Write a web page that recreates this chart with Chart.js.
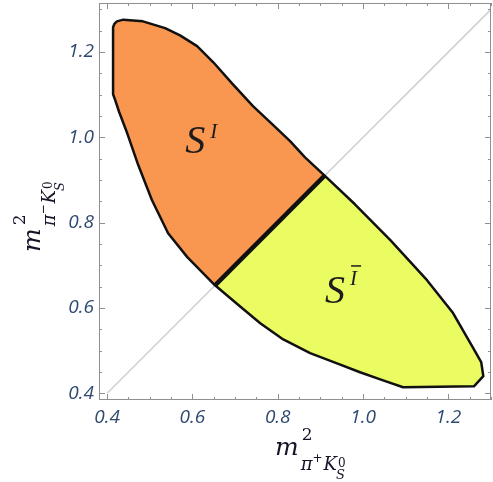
<!DOCTYPE html>
<html>
<head>
<meta charset="utf-8">
<script src="https://cdn.jsdelivr.net/npm/chart.js@4/dist/chart.umd.min.js"></script>
<style>
  html, body { margin: 0; padding: 0; background: #fff; }
  canvas { display: block; }
</style>
</head>
<body>
<canvas id="dalitzChart" width="493" height="482"></canvas>
<script>
// Tick values for both axes
const xTicks = [0.4, 0.6, 0.8, 1.0, 1.2];
const yTicks = [0.4, 0.6, 0.8, 1.0, 1.2];

// Region S^I (above the diagonal), boundary
const orangeX = [0.653, 0.588, 0.543, 0.505, 0.473, 0.447, 0.428, 0.419, 0.414, 0.414, 0.417, 0.423, 0.438, 0.484, 0.536, 0.571, 0.611, 0.649, 0.695, 0.742, 0.787, 0.829, 0.864, 0.91, 0.653];
const orangeY = [0.653, 0.719, 0.775, 0.853, 0.935, 1.010, 1.060, 1.087, 1.101, 1.258, 1.266, 1.272, 1.276, 1.272, 1.256, 1.239, 1.214, 1.176, 1.124, 1.073, 1.031, 0.991, 0.953, 0.91, 0.653];

// Region S^Ibar (below the diagonal)
const yellowX = [0.91, 0.981, 1.064, 1.150, 1.211, 1.258, 1.277, 1.282, 1.260, 1.094, 1.047, 0.993, 0.939, 0.876, 0.813, 0.759, 0.705, 0.653, 0.91];
const yellowY = [0.91, 0.843, 0.759, 0.665, 0.588, 0.506, 0.473, 0.440, 0.416, 0.414, 0.430, 0.449, 0.470, 0.494, 0.526, 0.564, 0.609, 0.653, 0.91];

// Divider on the diagonal and the diagonal itself
const dividerXY = [0.653, 0.91];
const diagonalXY = [0.4, 1.32];

function toPoints(xs, ys) {
    return xs.map((x, i) => ({ x: x, y: ys[i] }));
}

// Frame, inward ticks, region labels and math axis titles
const decorPlugin = {
    id: 'decor',
    afterDatasetsDraw(chart) {
        const ctx = chart.ctx;
        const xs = chart.scales.x, ys = chart.scales.y;

        // region labels
        ctx.save();
        ctx.fillStyle = '#1c1c1c';
        ctx.textBaseline = 'alphabetic';
        let px = xs.getPixelForValue(0.583), py = ys.getPixelForValue(0.963);
        ctx.font = 'italic 40px "Liberation Serif"';
        ctx.fillText('S', px, py);
        ctx.font = 'italic 21px "Liberation Serif"';
        ctx.fillText('I', px + 25, py - 15);

        px = xs.getPixelForValue(0.911); py = ys.getPixelForValue(0.611);
        ctx.font = 'italic 40px "Liberation Serif"';
        ctx.fillText('S', px, py);
        ctx.font = 'italic 21px "Liberation Serif"';
        ctx.fillText('I', px + 25, py - 18);
        ctx.fillRect(px + 26, py - 38, 10, 1.5);
        ctx.restore();
    },
    afterDraw(chart) {
        const ctx = chart.ctx;
        const xs = chart.scales.x, ys = chart.scales.y;
        const a = chart.chartArea;
        ctx.save();
        ctx.strokeStyle = '#8f8f8f';
        ctx.lineWidth = 1;
        ctx.strokeRect(a.left + 0.5, a.top + 0.5, a.right - a.left - 1, a.bottom - a.top - 1);

        ctx.beginPath();
        for (let k = 8; k <= 26; k++) {
            const v = k * 0.05;
            const major = (k % 4 === 0);
            const len = major ? 6 : 3;
            if (v <= xs.max) {
                const x = Math.round(xs.getPixelForValue(v)) + 0.5;
                ctx.moveTo(x, a.bottom); ctx.lineTo(x, a.bottom - len);
                ctx.moveTo(x, a.top); ctx.lineTo(x, a.top + len);
            }
            if (v <= ys.max) {
                const y = Math.round(ys.getPixelForValue(v)) + 0.5;
                ctx.moveTo(a.left, y); ctx.lineTo(a.left + len, y);
                ctx.moveTo(a.right, y); ctx.lineTo(a.right - len, y);
            }
        }
        ctx.stroke();

        // axis titles
        ctx.fillStyle = '#141428';
        ctx.save();
        ctx.translate(275, 455);
        drawMassTitle(ctx, '+');
        ctx.restore();
        ctx.save();
        ctx.translate(40, 252);
        ctx.rotate(-Math.PI / 2);
        drawMassTitle(ctx, '\u2212');
        ctx.restore();
        ctx.restore();
    }
};

function drawMassTitle(ctx, sign) {
    ctx.textBaseline = 'alphabetic';
    ctx.font = 'italic 25px "DejaVu Serif"';
    ctx.fillText('m', 0, 0);
    let x = ctx.measureText('m').width + 2;
    ctx.font = '17px "DejaVu Serif"';
    ctx.fillText('2', x + 1, -15);
    ctx.font = 'italic 18px "DejaVu Serif"';
    ctx.fillText('\u03c0', x, 15);
    x += ctx.measureText('\u03c0').width;
    ctx.font = '12px "DejaVu Sans"';
    ctx.fillText(sign, x, 7);
    x += ctx.measureText(sign).width + 1;
    ctx.font = 'italic 18px "DejaVu Serif"';
    ctx.fillText('K', x, 15);
    x += ctx.measureText('K').width;
    ctx.font = '12px "DejaVu Serif"';
    ctx.fillText('0', x + 1, 12);
    ctx.font = 'italic 13px "DejaVu Serif"';
    ctx.fillText('S', x - 1, 24);
}

const tickFont = { family: "'Open Sans', sans-serif", style: 'italic', size: 19 };

new Chart(document.getElementById('dalitzChart'), {
    type: 'scatter',
    data: {
        datasets: [
            {
                data: toPoints(dividerXY, dividerXY),
                showLine: true,
                borderColor: '#111',
                borderWidth: 4.5,
                pointRadius: 0,
                order: 0
            },
            {
                data: toPoints(yellowX, yellowY),
                showLine: true,
                fill: 'shape',
                backgroundColor: '#ebfc63',
                borderColor: '#111',
                borderWidth: 2.5,
                borderJoinStyle: 'round',
                pointRadius: 0,
                order: 1
            },
            {
                data: toPoints(orangeX, orangeY),
                showLine: true,
                fill: 'shape',
                backgroundColor: '#f9964f',
                borderColor: '#111',
                borderWidth: 2.5,
                borderJoinStyle: 'round',
                pointRadius: 0,
                order: 2
            },
            {
                data: toPoints(diagonalXY, diagonalXY),
                showLine: true,
                borderColor: '#d0d0d0',
                borderWidth: 1.5,
                pointRadius: 0,
                order: 3
            }
        ]
    },
    options: {
        responsive: false,
        animation: false,
        layout: { padding: { top: 3, right: 2, left: 0, bottom: 0 } },
        plugins: {
            legend: { display: false },
            tooltip: { enabled: false }
        },
        scales: {
            x: {
                type: 'linear',
                min: 0.381,
                max: 1.300,
                grid: { display: false, drawTicks: false },
                border: { display: false },
                afterBuildTicks: function(scale) {
                    scale.ticks = xTicks.map(v => ({ value: v }));
                },
                afterFit: function(scale) {
                    scale.height = 82;
                    scale.paddingLeft = 0;
                    scale.paddingRight = 0;
                },
                ticks: {
                    padding: 6,
                    maxRotation: 0,
                    color: '#2f4a70',
                    font: tickFont,
                    callback: function(value) { return value.toFixed(1); }
                }
            },
            y: {
                type: 'linear',
                min: 0.384,
                max: 1.315,
                grid: { display: false, drawTicks: false },
                border: { display: false },
                afterBuildTicks: function(scale) {
                    scale.ticks = yTicks.map(v => ({ value: v }));
                },
                afterFit: function(scale) {
                    scale.width = 99;
                    scale.paddingTop = 0;
                    scale.paddingBottom = 0;
                },
                ticks: {
                    padding: 5,
                    color: '#2f4a70',
                    font: tickFont,
                    callback: function(value) { return value.toFixed(1); }
                }
            }
        }
    },
    plugins: [decorPlugin]
});
</script>
</body>
</html>
